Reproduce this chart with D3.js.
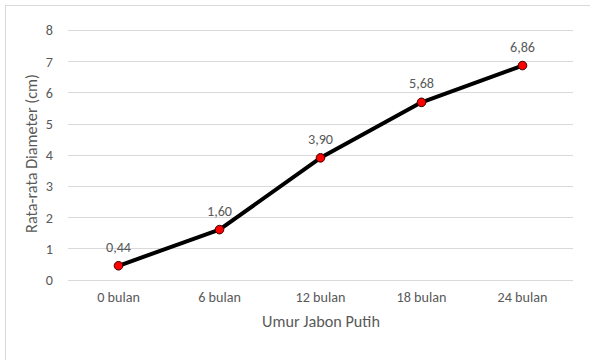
<!DOCTYPE html>
<html><head><meta charset="utf-8">
<script src="https://cdn.jsdelivr.net/npm/d3@7"></script>
<style>
html,body{margin:0;padding:0;background:#fff;}
svg text{font-family:Calibri,Carlito,Lato,"Open Sans",sans-serif;fill:#595959;}
</style></head><body>
<svg id="chart" width="590" height="360"></svg>
<script>
const categories = ["0 bulan","6 bulan","12 bulan","18 bulan","24 bulan"];
const values = [0.44, 1.60, 3.90, 5.68, 6.86];
const valueLabels = ["0,44","1,60","3,90","5,68","6,86"];
const yTicks = [0,1,2,3,4,5,6,7,8];
const xTitle = "Umur Jabon Putih";
const yTitle = "Rata-rata Diameter (cm)";

const svg = d3.select("#chart");
// chart border
svg.append("rect").attr("x",5.5).attr("y",5.5).attr("width",590).attr("height",360)
  .attr("fill","#fff").attr("stroke","#d9d9d9").attr("stroke-width",1);

const plotL = 68, plotR = 573, plotT = 30, plotB = 279.5;
const x = d3.scaleBand().domain(categories).range([plotL,plotR]);
const y = d3.scaleLinear().domain([0,8]).range([plotB,plotT]);

// size text so that a reference string has a given width
function fitSize(str, targetW){
  const t = svg.append("text").attr("font-size","20px").text(str);
  const w = t.node().getComputedTextLength();
  t.remove();
  return Math.min(17, Math.max(11, 20*targetW/w));
}
const tickSize = fitSize("12 bulan", 50);
const xTitleSize = fitSize(xTitle, 118);
const yTitleSize = fitSize(yTitle, 159);

// gridlines
svg.append("g").selectAll("line").data(yTicks).join("line")
  .attr("x1",plotL).attr("x2",plotR)
  .attr("y1",d=>Math.round(y(d))+0.5).attr("y2",d=>Math.round(y(d))+0.5)
  .attr("stroke","#d9d9d9").attr("stroke-width",1);

// y axis
const yAxis = d3.axisLeft(y).tickValues(yTicks).tickSize(0).tickPadding(0).tickFormat(d3.format("d"));
const gy = svg.append("g").attr("transform",`translate(${plotL-15},0)`).call(yAxis);
gy.select(".domain").remove();
gy.selectAll("text").attr("font-size",tickSize+"px").attr("dy","0.35em");

// x axis
const xAxis = d3.axisBottom(x).tickSize(0).tickPadding(0);
const gx = svg.append("g").attr("transform",`translate(0,${plotB+12})`).call(xAxis);
gx.select(".domain").remove();
gx.selectAll("text").attr("font-size",tickSize+"px").attr("dy","0.71em");

// axis titles
svg.append("text").attr("x",321).attr("y",327).attr("text-anchor","middle")
  .attr("font-size",xTitleSize+"px").text(xTitle);
svg.append("text").attr("transform","translate(37,153.5) rotate(-90)").attr("text-anchor","middle")
  .attr("font-size",yTitleSize+"px").text(yTitle);

const data = categories.map((c,i)=>({c, v:values[i], l:valueLabels[i]}));
const line = d3.line().x(d=>x(d.c)+x.bandwidth()/2).y(d=>y(d.v));
svg.append("path").datum(data).attr("d",line).attr("fill","none")
  .attr("stroke","#000").attr("stroke-width",4).attr("stroke-linejoin","round").attr("stroke-linecap","round");

svg.append("g").selectAll("circle").data(data).join("circle")
  .attr("cx",d=>x(d.c)+x.bandwidth()/2).attr("cy",d=>y(d.v)).attr("r",4.3)
  .attr("fill","#ff0000").attr("stroke","#3a0000").attr("stroke-width",1);

svg.append("g").selectAll("text").data(data).join("text")
  .attr("x",d=>x(d.c)+x.bandwidth()/2).attr("y",d=>y(d.v)-14)
  .attr("text-anchor","middle").attr("font-size",tickSize+"px").text(d=>d.l);
</script>
</body></html>
